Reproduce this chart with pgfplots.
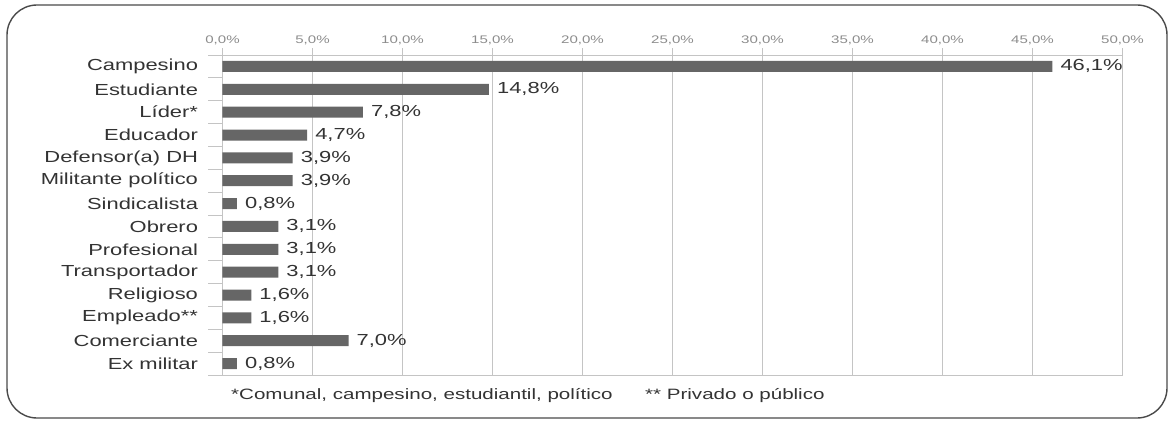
\documentclass[border=0pt]{standalone}
\usepackage{pgfplots}
\pgfplotsset{compat=1.18}
\usepackage{pgfplotstable}
\usepackage{fontspec}
\setmainfont{Liberation Sans}[FakeStretch=1.37]

\definecolor{barc}{HTML}{666666}
\definecolor{gridc}{HTML}{C4C4C4}
\definecolor{txt}{HTML}{333333}
\definecolor{framec}{HTML}{4A4A4A}

\pgfplotstableread{
idx val
0  46.1
1  14.8
2  7.8
3  4.7
4  3.9
5  3.9
6  0.8
7  3.1
8  3.1
9  3.1
10 1.6
11 1.6
12 7.0
13 0.8
}\datos

\begin{document}
\begin{tikzpicture}[x=1pt,y=1pt]
\useasboundingbox (0,0) rectangle (1173,421);
\draw[framec, line width=1.4pt, rounded corners=30pt] (7,3) rectangle (1167,416);

\begin{axis}[
    at={(222.5pt,46pt)}, anchor=south west,
    scale only axis, width=900pt, height=320pt,
    xbar, bar width=11pt,
    xmin=0, xmax=50,
    ymin=-0.5, ymax=13.5, y dir=reverse,
    /pgf/number format/assume math mode=true,
    xtick={0,5,...,50},
    xtick pos=upper, xticklabel pos=upper,
    xticklabel={\pgfmathprintnumber[fixed,fixed zerofill,precision=1,use comma]{\tick}\%},
    xticklabel style={font=\fontsize{11}{13}\selectfont, text=gray!90},
    xmajorgrids, grid style={gridc, line width=1pt},
    axis line style={gridc, line width=1pt},
    tick align=outside,
    major tick length=7pt, minor tick length=14pt,
    every major tick/.append style={gridc, line width=1pt},
    every minor tick/.append style={gridc, line width=1pt},
    ytick={0,...,13}, ytick pos=left,
    every major y tick/.append style={draw=none},
    minor ytick={-0.5,0.5,...,13.5},
    yticklabels={Campesino,Estudiante,Líder*,Educador,Defensor(a) DH,Militante político,Sindicalista,Obrero,Profesional,Transportador,Religioso,Empleado**,Comerciante,Ex militar},
    yticklabel style={font=\fontsize{16}{18}\selectfont, text=txt, xshift=-14pt},
    point meta=x,
    nodes near coords={\pgfmathprintnumber[fixed,fixed zerofill,precision=1,use comma]{\pgfplotspointmeta}\%},
    every node near coord/.append style={font=\fontsize{16}{18}\selectfont, text=txt, anchor=west, inner sep=2pt, xshift=6pt},
]
\addplot[fill=barc, draw=none] table[x=val, y=idx] {\datos};
\end{axis}

\node[anchor=west, text=txt, font=\fontsize{15}{17}\selectfont, inner sep=0pt] at (231,25) {*Comunal, campesino, estudiantil, político};
\node[anchor=west, text=txt, font=\fontsize{15}{17}\selectfont, inner sep=0pt] at (645,25) {** Privado o público};
\end{tikzpicture}
\end{document}
